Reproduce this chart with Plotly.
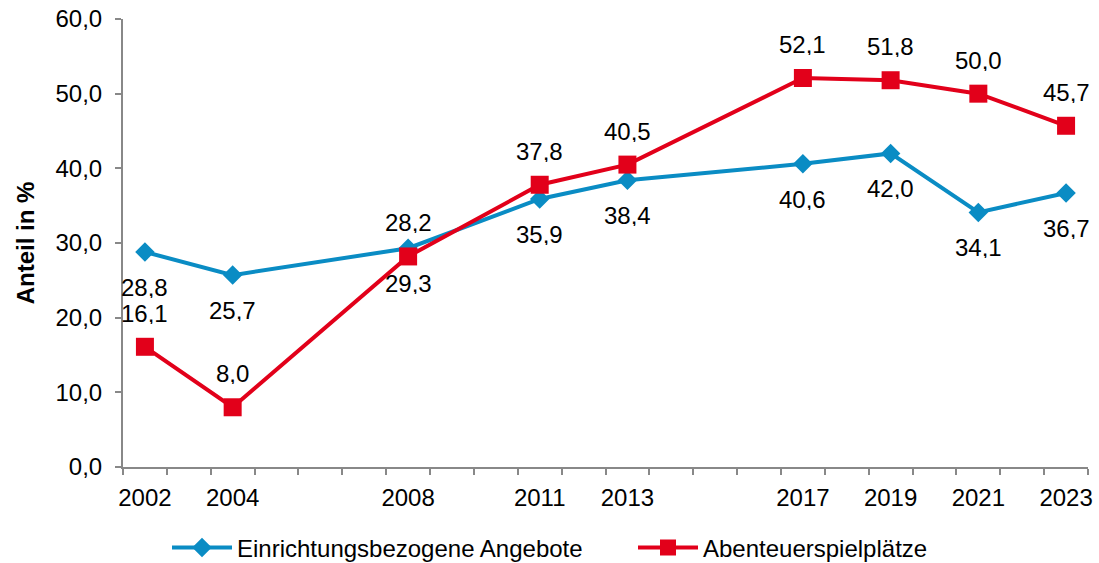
import plotly.graph_objects as go

# Data
years = [2002, 2004, 2008, 2011, 2013, 2017, 2019, 2021, 2023]
einrichtung = [28.8, 25.7, 29.3, 35.9, 38.4, 40.6, 42.0, 34.1, 36.7]
abenteuer = [16.1, 8.0, 28.2, 37.8, 40.5, 52.1, 51.8, 50.0, 45.7]
year_labels = [str(y) for y in years]

BLUE = '#0A8CC4'
RED = '#E2001A'
FONT = 'Liberation Sans, Arial, sans-serif'
FS = 24


def fmt(v):
    return f'{v:.1f}'.replace('.', ',')


fig = go.Figure()
fig.add_trace(go.Scatter(name='Einrichtungsbezogene Angebote', x=years, y=einrichtung,
                         mode='lines+markers', line=dict(color=BLUE, width=4),
                         marker=dict(symbol='diamond', size=15, color=BLUE)))
fig.add_trace(go.Scatter(name='Abenteuerspielplätze', x=years, y=abenteuer,
                         mode='lines+markers', line=dict(color=RED, width=4),
                         marker=dict(symbol='square', size=18, color=RED)))

# Data labels: blue below, red above
annotations = []
for x, v in zip(years, einrichtung):
    annotations.append(dict(x=x, y=v, text=fmt(v), showarrow=False, yshift=-35, height=22,
                            font=dict(size=FS, color='black', family=FONT)))
for x, v in zip(years, abenteuer):
    annotations.append(dict(x=x, y=v, text=fmt(v), showarrow=False, yshift=34, height=22,
                            font=dict(size=FS, color='black', family=FONT)))

fig.update_layout(
    width=1099, height=563,
    margin=dict(l=123, r=11, t=19, b=96),
    paper_bgcolor='white', plot_bgcolor='white',
    font=dict(family=FONT, size=FS, color='black'),
    separators=',.',
    annotations=annotations,
    showlegend=True,
    legend=dict(orientation='h', x=0.566, xanchor='center', yref='container', y=0.027,
                yanchor='middle', font=dict(size=FS), itemwidth=60,
                entrywidth=391, entrywidthmode='pixels'),
    xaxis=dict(range=[2001.5, 2023.5], tickmode='array', tickvals=years, ticktext=year_labels,
               ticks='', ticklabelstandoff=8, automargin=False,
               showgrid=False, zeroline=False, showline=True,
               linecolor='#888888', linewidth=2,
               minor=dict(tickmode='linear', tick0=2001.5, dtick=1, ticks='outside',
                          ticklen=6, tickcolor='#888888', tickwidth=2, showgrid=False)),
    yaxis=dict(range=[0, 60], dtick=10, tickformat='.1f', ticks='outside', ticklen=6,
               tickcolor='#888888', tickwidth=2, showgrid=False, zeroline=False,
               showline=True, linecolor='#888888', linewidth=2, automargin=False,
               ticklabelstandoff=8, ticklabeloverflow='allow',
               title=dict(text='<b>Anteil in %</b>', font=dict(size=FS), standoff=14)),
)

# drop the default page margin so the figure sits in the top-left corner
fig.write_html("out.html", config={'displayModeBar': False},
               post_script="document.body.style.margin = '0';")
